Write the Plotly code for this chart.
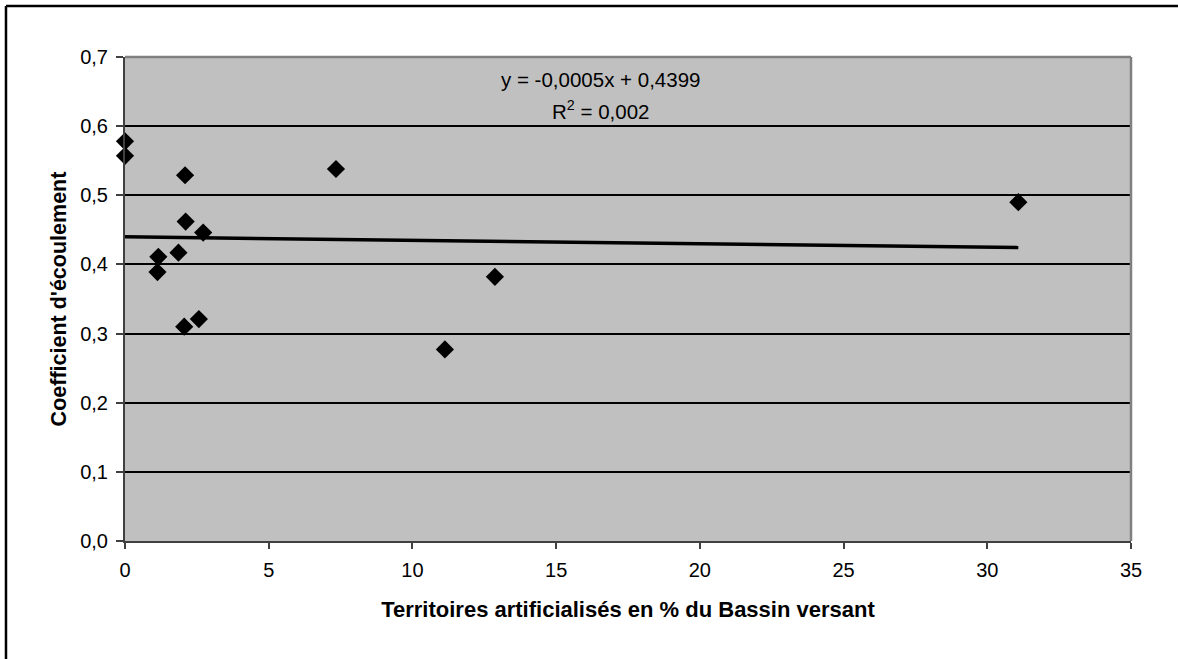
import plotly.graph_objects as go

# Data
x_vals = [0.0, 0.0, 2.09, 2.11, 2.72, 1.86, 1.16, 1.13, 2.06, 2.57, 7.34, 12.87, 11.13, 31.08]
y_vals = [0.578, 0.557, 0.529, 0.462, 0.446, 0.417, 0.411, 0.389, 0.310, 0.321, 0.538, 0.382, 0.277, 0.490]

slope = -0.0005
intercept = 0.4399
eq_text = "y = -0,0005x + 0,4399"
r2_text = "R<sup>2</sup> = 0,002"
trend_x = [min(x_vals), max(x_vals)]
trend_y = [slope * v + intercept for v in trend_x]

font_family = "Liberation Sans, Arial, sans-serif"

fig = go.Figure()
fig.add_trace(go.Scatter(
    x=trend_x, y=trend_y, mode="lines",
    line=dict(color="black", width=3.5), hoverinfo="skip", showlegend=False,
))
fig.add_trace(go.Scatter(
    x=x_vals, y=y_vals, mode="markers", cliponaxis=False,
    marker=dict(symbol="diamond", size=14, color="black"),
    showlegend=False,
))

fig.update_layout(
    width=1178, height=659,
    margin=dict(l=125, r=47, t=57, b=118),
    paper_bgcolor="white",
    plot_bgcolor="#c0c0c0",
    separators=", ",
    font=dict(family=font_family, size=20, color="black"),
    xaxis=dict(
        range=[0, 35], dtick=5, tick0=0,
        showgrid=False, zeroline=False,
        showline=True, linecolor="#404040", linewidth=2,
        ticks="outside", ticklen=6, tickcolor="#404040", tickwidth=1.5,
        tickfont=dict(size=20), ticklabelstandoff=4,
        title=dict(text="<b>Territoires artificialisés en % du Bassin versant</b>",
                   font=dict(size=22), standoff=22),
        fixedrange=True,
    ),
    yaxis=dict(
        range=[0, 0.7], dtick=0.1, tick0=0, tickformat=".1f",
        showgrid=True, gridcolor="black", gridwidth=2,
        zeroline=False,
        showline=True, linecolor="#404040", linewidth=2,
        ticks="outside", ticklen=7, tickcolor="#404040", tickwidth=1.5,
        tickfont=dict(size=20), ticklabelstandoff=4,
        title=dict(text="<b>Coefficient d'écoulement</b>", font=dict(size=21.5), standoff=8),
        fixedrange=True,
    ),
    shapes=[
        # gray plot-area border (top and right)
        dict(type="line", xref="paper", yref="paper", x0=0, y0=1, x1=1, y1=1,
             line=dict(color="#808080", width=2.5)),
        dict(type="line", xref="paper", yref="paper", x0=1, y0=0, x1=1, y1=1,
             line=dict(color="#808080", width=2.5)),
        # outer chart frame (left and top visible)
        dict(type="line", xref="paper", yref="paper", x0=-0.1183, y0=1.1054, x1=1.0467, y1=1.1054,
             line=dict(color="black", width=2.5)),
        dict(type="line", xref="paper", yref="paper", x0=-0.1183, y0=-0.2438, x1=-0.1183, y1=1.1054,
             line=dict(color="black", width=2.5)),
    ],
    annotations=[
        dict(text=eq_text, xref="x", yref="paper", x=16.53, y=0.9525,
             xanchor="center", yanchor="middle", showarrow=False, font=dict(size=20.5)),
        dict(text=r2_text, xref="x", yref="paper", x=16.53, y=0.8905,
             xanchor="center", yanchor="middle", showarrow=False, font=dict(size=20.5)),
    ],
)

fig.write_html("out.html", config={"displayModeBar": False},
               post_script="document.body.style.margin='0px';")
